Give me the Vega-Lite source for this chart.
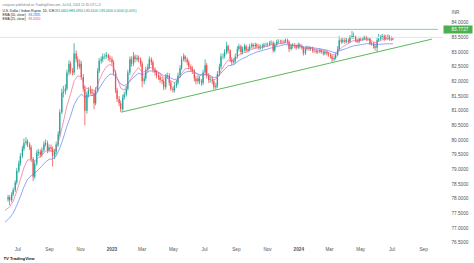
{
  "$schema": "https://vega.github.io/schema/vega-lite/v6.json",
  "width": 443,
  "height": 244,
  "autosize": {"type": "none"},
  "padding": {"left": 0, "top": 0, "right": 31, "bottom": 19},
  "background": "#ffffff",
  "config": {"view": {"stroke": null}, "axis": {"labelOverlap": false}},
  "resolve": {"axis": {"x": "independent", "y": "independent"}},
  "datasets": {
    "levels": [{"p": 83.5}],
    "drawings": [
      {"id": "res", "d": "2023-11-23", "p": 83.7727},
      {"id": "res", "d": "2024-09-30", "p": 83.7727},
      {"id": "sup", "d": "2023-01-20", "p": 80.95},
      {"id": "sup", "d": "2024-09-18", "p": 83.44}
    ],
    "ema": [
      {"d":"2022-06-07","e25":77.6,"e50":77.2},
      {"d":"2022-06-16","e25":77.72,"e50":77.34},
      {"d":"2022-06-23","e25":77.91,"e50":77.51},
      {"d":"2022-06-30","e25":78.25,"e50":77.77},
      {"d":"2022-07-07","e25":78.65,"e50":78.07},
      {"d":"2022-07-14","e25":79.06,"e50":78.4},
      {"d":"2022-07-21","e25":79.32,"e50":78.66},
      {"d":"2022-07-28","e25":79.33,"e50":78.78},
      {"d":"2022-08-04","e25":79.29,"e50":78.86},
      {"d":"2022-08-11","e25":79.39,"e50":78.99},
      {"d":"2022-08-18","e25":79.48,"e50":79.11},
      {"d":"2022-08-25","e25":79.62,"e50":79.25},
      {"d":"2022-09-01","e25":79.66,"e50":79.34},
      {"d":"2022-09-08","e25":79.59,"e50":79.36},
      {"d":"2022-09-15","e25":79.68,"e50":79.45},
      {"d":"2022-09-22","e25":80.1,"e50":79.72},
      {"d":"2022-09-29","e25":80.61,"e50":80.07},
      {"d":"2022-10-06","e25":81.17,"e50":80.47},
      {"d":"2022-10-13","e25":81.56,"e50":80.81},
      {"d":"2022-10-20","e25":82.02,"e50":81.2},
      {"d":"2022-10-27","e25":82.18,"e50":81.43},
      {"d":"2022-11-03","e25":82.17,"e50":81.56},
      {"d":"2022-11-10","e25":81.78,"e50":81.46},
      {"d":"2022-11-17","e25":81.75,"e50":81.5},
      {"d":"2022-11-24","e25":81.7,"e50":81.52},
      {"d":"2022-12-01","e25":81.7,"e50":81.55},
      {"d":"2022-12-08","e25":82.03,"e50":81.76},
      {"d":"2022-12-15","e25":82.3,"e50":81.96},
      {"d":"2022-12-22","e25":82.5,"e50":82.13},
      {"d":"2022-12-29","e25":82.58,"e50":82.24},
      {"d":"2023-01-05","e25":82.49,"e50":82.25},
      {"d":"2023-01-12","e25":82.13,"e50":82.1},
      {"d":"2023-01-19","e25":81.77,"e50":81.91},
      {"d":"2023-01-26","e25":81.7,"e50":81.85},
      {"d":"2023-02-02","e25":81.9,"e50":81.93},
      {"d":"2023-02-09","e25":82.13,"e50":82.05},
      {"d":"2023-02-16","e25":82.33,"e50":82.18},
      {"d":"2023-02-23","e25":82.47,"e50":82.28},
      {"d":"2023-03-02","e25":82.31,"e50":82.23},
      {"d":"2023-03-09","e25":82.34,"e50":82.26},
      {"d":"2023-03-16","e25":82.48,"e50":82.35},
      {"d":"2023-03-23","e25":82.45,"e50":82.36},
      {"d":"2023-03-30","e25":82.37,"e50":82.33},
      {"d":"2023-04-06","e25":82.26,"e50":82.28},
      {"d":"2023-04-13","e25":82.11,"e50":82.19},
      {"d":"2023-04-20","e25":82.14,"e50":82.19},
      {"d":"2023-04-27","e25":82.01,"e50":82.11},
      {"d":"2023-05-04","e25":81.96,"e50":82.06},
      {"d":"2023-05-11","e25":82.04,"e50":82.09},
      {"d":"2023-05-18","e25":82.27,"e50":82.21},
      {"d":"2023-05-25","e25":82.43,"e50":82.31},
      {"d":"2023-06-01","e25":82.45,"e50":82.34},
      {"d":"2023-06-08","e25":82.42,"e50":82.34},
      {"d":"2023-06-15","e25":82.28,"e50":82.28},
      {"d":"2023-06-22","e25":82.19,"e50":82.23},
      {"d":"2023-06-29","e25":82.23,"e50":82.24},
      {"d":"2023-07-06","e25":82.22,"e50":82.23},
      {"d":"2023-07-13","e25":82.17,"e50":82.2},
      {"d":"2023-07-20","e25":82.05,"e50":82.13},
      {"d":"2023-07-27","e25":82.12,"e50":82.15},
      {"d":"2023-08-03","e25":82.36,"e50":82.28},
      {"d":"2023-08-10","e25":82.57,"e50":82.41},
      {"d":"2023-08-17","e25":82.73,"e50":82.53},
      {"d":"2023-08-24","e25":82.7,"e50":82.55},
      {"d":"2023-08-31","e25":82.75,"e50":82.6},
      {"d":"2023-09-07","e25":82.9,"e50":82.71},
      {"d":"2023-09-14","e25":82.97,"e50":82.78},
      {"d":"2023-09-21","e25":83.0,"e50":82.83},
      {"d":"2023-09-28","e25":83.07,"e50":82.9},
      {"d":"2023-10-05","e25":83.11,"e50":82.95},
      {"d":"2023-10-12","e25":83.14,"e50":83.0},
      {"d":"2023-10-19","e25":83.15,"e50":83.03},
      {"d":"2023-10-26","e25":83.18,"e50":83.07},
      {"d":"2023-11-02","e25":83.2,"e50":83.1},
      {"d":"2023-11-09","e25":83.24,"e50":83.14},
      {"d":"2023-11-16","e25":83.24,"e50":83.16},
      {"d":"2023-11-23","e25":83.28,"e50":83.2},
      {"d":"2023-11-30","e25":83.3,"e50":83.23},
      {"d":"2023-12-07","e25":83.33,"e50":83.26},
      {"d":"2023-12-14","e25":83.25,"e50":83.23},
      {"d":"2023-12-21","e25":83.24,"e50":83.23},
      {"d":"2023-12-28","e25":83.21,"e50":83.22},
      {"d":"2024-01-04","e25":83.21,"e50":83.22},
      {"d":"2024-01-11","e25":83.12,"e50":83.17},
      {"d":"2024-01-18","e25":83.13,"e50":83.17},
      {"d":"2024-01-25","e25":83.13,"e50":83.16},
      {"d":"2024-02-01","e25":83.1,"e50":83.14},
      {"d":"2024-02-08","e25":83.07,"e50":83.12},
      {"d":"2024-02-15","e25":83.05,"e50":83.1},
      {"d":"2024-02-22","e25":83.03,"e50":83.08},
      {"d":"2024-02-29","e25":82.99,"e50":83.05},
      {"d":"2024-03-07","e25":82.91,"e50":83.0},
      {"d":"2024-03-14","e25":82.91,"e50":82.98},
      {"d":"2024-03-21","e25":83.07,"e50":83.04},
      {"d":"2024-03-28","e25":83.18,"e50":83.08},
      {"d":"2024-04-04","e25":83.25,"e50":83.12},
      {"d":"2024-04-11","e25":83.33,"e50":83.17},
      {"d":"2024-04-18","e25":83.39,"e50":83.21},
      {"d":"2024-04-25","e25":83.38,"e50":83.23},
      {"d":"2024-05-02","e25":83.4,"e50":83.25},
      {"d":"2024-05-09","e25":83.43,"e50":83.27},
      {"d":"2024-05-16","e25":83.44,"e50":83.29},
      {"d":"2024-05-23","e25":83.39,"e50":83.28},
      {"d":"2024-05-30","e25":83.31,"e50":83.26},
      {"d":"2024-06-06","e25":83.36,"e50":83.26},
      {"d":"2024-06-13","e25":83.42,"e50":83.27},
      {"d":"2024-06-20","e25":83.45,"e50":83.28},
      {"d":"2024-06-27","e25":83.45,"e50":83.28},
      {"d":"2024-07-04","e25":83.43,"e50":83.28}
    ],
    "candles": [
      {"d":"2022-06-13","o":77.98,"h":78.13,"l":77.9,"c":78.05},
      {"d":"2022-06-16","o":78.05,"h":78.12,"l":77.78,"c":77.95},
      {"d":"2022-06-20","o":77.95,"h":78.22,"l":77.88,"c":78.15},
      {"d":"2022-06-23","o":78.15,"h":78.38,"l":78.08,"c":78.3},
      {"d":"2022-06-27","o":78.3,"h":78.63,"l":78.22,"c":78.55},
      {"d":"2022-06-30","o":78.55,"h":79.05,"l":78.48,"c":78.95},
      {"d":"2022-07-04","o":78.95,"h":79.3,"l":78.88,"c":79.2},
      {"d":"2022-07-07","o":79.2,"h":79.55,"l":79.12,"c":79.45},
      {"d":"2022-07-11","o":79.45,"h":79.8,"l":79.38,"c":79.7},
      {"d":"2022-07-14","o":79.7,"h":80.05,"l":79.62,"c":79.9},
      {"d":"2022-07-18","o":79.9,"h":80.1,"l":79.82,"c":79.95},
      {"d":"2022-07-21","o":79.95,"h":80.02,"l":79.76,"c":79.85},
      {"d":"2022-07-25","o":79.85,"h":79.92,"l":79.66,"c":79.75},
      {"d":"2022-07-28","o":79.75,"h":79.82,"l":79.25,"c":79.35},
      {"d":"2022-08-01","o":79.35,"h":79.42,"l":78.6,"c":78.75},
      {"d":"2022-08-04","o":78.75,"h":79.3,"l":78.68,"c":79.2},
      {"d":"2022-08-08","o":79.2,"h":79.65,"l":79.12,"c":79.55},
      {"d":"2022-08-11","o":79.55,"h":79.7,"l":79.45,"c":79.6},
      {"d":"2022-08-15","o":79.6,"h":79.68,"l":79.4,"c":79.5},
      {"d":"2022-08-18","o":79.5,"h":79.75,"l":79.42,"c":79.65},
      {"d":"2022-08-22","o":79.65,"h":79.95,"l":79.58,"c":79.85},
      {"d":"2022-08-25","o":79.85,"h":80.02,"l":79.78,"c":79.9},
      {"d":"2022-08-29","o":79.9,"h":79.98,"l":79.55,"c":79.65},
      {"d":"2022-09-01","o":79.65,"h":79.85,"l":79.58,"c":79.75},
      {"d":"2022-09-05","o":79.75,"h":79.85,"l":79.6,"c":79.7},
      {"d":"2022-09-08","o":79.7,"h":79.78,"l":79.1,"c":79.45},
      {"d":"2022-09-12","o":79.45,"h":79.7,"l":79.35,"c":79.6},
      {"d":"2022-09-15","o":79.6,"h":79.95,"l":79.52,"c":79.85},
      {"d":"2022-09-19","o":79.85,"h":80.3,"l":79.78,"c":80.2},
      {"d":"2022-09-22","o":80.2,"h":81.05,"l":80.12,"c":80.95},
      {"d":"2022-09-26","o":80.95,"h":81.75,"l":80.88,"c":81.6},
      {"d":"2022-09-29","o":81.6,"h":81.85,"l":81.45,"c":81.65},
      {"d":"2022-10-03","o":81.65,"h":81.9,"l":81.55,"c":81.75},
      {"d":"2022-10-06","o":81.75,"h":82.4,"l":81.68,"c":82.3},
      {"d":"2022-10-10","o":82.3,"h":82.72,"l":82.2,"c":82.6},
      {"d":"2022-10-13","o":82.6,"h":82.68,"l":82.25,"c":82.35},
      {"d":"2022-10-17","o":82.35,"h":82.45,"l":82.2,"c":82.3},
      {"d":"2022-10-20","o":82.3,"h":83.3,"l":82.22,"c":82.95},
      {"d":"2022-10-24","o":82.95,"h":83.05,"l":82.65,"c":82.75},
      {"d":"2022-10-27","o":82.75,"h":82.85,"l":82.4,"c":82.5},
      {"d":"2022-10-31","o":82.5,"h":82.75,"l":82.42,"c":82.6},
      {"d":"2022-11-03","o":82.6,"h":82.7,"l":82.05,"c":82.15},
      {"d":"2022-11-07","o":82.15,"h":82.25,"l":81.65,"c":81.75},
      {"d":"2022-11-10","o":81.75,"h":81.85,"l":80.5,"c":81.0},
      {"d":"2022-11-14","o":81.0,"h":81.65,"l":80.9,"c":81.55},
      {"d":"2022-11-17","o":81.55,"h":81.8,"l":81.45,"c":81.7},
      {"d":"2022-11-21","o":81.7,"h":81.85,"l":81.55,"c":81.65},
      {"d":"2022-11-24","o":81.65,"h":81.75,"l":81.5,"c":81.6},
      {"d":"2022-11-28","o":81.6,"h":81.68,"l":81.05,"c":81.25},
      {"d":"2022-12-01","o":81.25,"h":81.8,"l":81.18,"c":81.7},
      {"d":"2022-12-05","o":81.7,"h":82.45,"l":81.62,"c":82.35},
      {"d":"2022-12-08","o":82.35,"h":82.8,"l":82.28,"c":82.7},
      {"d":"2022-12-12","o":82.7,"h":82.85,"l":82.6,"c":82.75},
      {"d":"2022-12-15","o":82.75,"h":82.95,"l":82.65,"c":82.85},
      {"d":"2022-12-19","o":82.85,"h":82.95,"l":82.75,"c":82.86},
      {"d":"2022-12-22","o":82.86,"h":83.0,"l":82.78,"c":82.9},
      {"d":"2022-12-26","o":82.9,"h":82.95,"l":82.7,"c":82.8},
      {"d":"2022-12-29","o":82.8,"h":82.88,"l":82.65,"c":82.75},
      {"d":"2023-01-02","o":82.75,"h":82.85,"l":82.55,"c":82.65},
      {"d":"2023-01-05","o":82.65,"h":82.72,"l":82.2,"c":82.3},
      {"d":"2023-01-09","o":82.3,"h":82.38,"l":81.6,"c":81.7},
      {"d":"2023-01-12","o":81.7,"h":81.78,"l":81.3,"c":81.4},
      {"d":"2023-01-16","o":81.4,"h":81.5,"l":81.15,"c":81.25},
      {"d":"2023-01-19","o":81.25,"h":81.35,"l":80.95,"c":81.05},
      {"d":"2023-01-23","o":81.05,"h":81.55,"l":80.98,"c":81.45},
      {"d":"2023-01-26","o":81.45,"h":81.65,"l":81.38,"c":81.55},
      {"d":"2023-01-30","o":81.55,"h":81.85,"l":81.48,"c":81.75},
      {"d":"2023-02-02","o":81.75,"h":82.4,"l":81.68,"c":82.3},
      {"d":"2023-02-06","o":82.3,"h":82.85,"l":82.22,"c":82.75},
      {"d":"2023-02-09","o":82.75,"h":82.85,"l":82.5,"c":82.6},
      {"d":"2023-02-13","o":82.6,"h":83.0,"l":82.52,"c":82.85},
      {"d":"2023-02-16","o":82.85,"h":82.92,"l":82.65,"c":82.75},
      {"d":"2023-02-20","o":82.75,"h":82.9,"l":82.68,"c":82.8},
      {"d":"2023-02-23","o":82.8,"h":82.88,"l":82.65,"c":82.75},
      {"d":"2023-02-27","o":82.75,"h":82.82,"l":82.5,"c":82.6},
      {"d":"2023-03-02","o":82.6,"h":82.68,"l":81.8,"c":82.0},
      {"d":"2023-03-06","o":82.0,"h":82.2,"l":81.9,"c":82.1},
      {"d":"2023-03-09","o":82.1,"h":82.5,"l":82.02,"c":82.4},
      {"d":"2023-03-13","o":82.4,"h":82.6,"l":82.32,"c":82.5},
      {"d":"2023-03-16","o":82.5,"h":82.85,"l":82.42,"c":82.75},
      {"d":"2023-03-20","o":82.75,"h":82.82,"l":82.55,"c":82.65},
      {"d":"2023-03-23","o":82.65,"h":82.72,"l":82.3,"c":82.4},
      {"d":"2023-03-27","o":82.4,"h":82.48,"l":82.2,"c":82.3},
      {"d":"2023-03-30","o":82.3,"h":82.38,"l":82.1,"c":82.2},
      {"d":"2023-04-03","o":82.2,"h":82.28,"l":82.05,"c":82.15},
      {"d":"2023-04-06","o":82.15,"h":82.22,"l":81.95,"c":82.05},
      {"d":"2023-04-10","o":82.05,"h":82.15,"l":81.9,"c":82.0},
      {"d":"2023-04-13","o":82.0,"h":82.08,"l":81.7,"c":81.8},
      {"d":"2023-04-17","o":81.8,"h":82.25,"l":81.72,"c":82.15},
      {"d":"2023-04-20","o":82.15,"h":82.3,"l":82.08,"c":82.2},
      {"d":"2023-04-24","o":82.2,"h":82.28,"l":81.85,"c":81.95},
      {"d":"2023-04-27","o":81.95,"h":82.02,"l":81.68,"c":81.75},
      {"d":"2023-05-01","o":81.75,"h":81.82,"l":81.62,"c":81.7},
      {"d":"2023-05-04","o":81.7,"h":81.95,"l":81.62,"c":81.85},
      {"d":"2023-05-08","o":81.85,"h":82.05,"l":81.78,"c":81.95},
      {"d":"2023-05-11","o":81.95,"h":82.3,"l":81.88,"c":82.2},
      {"d":"2023-05-15","o":82.2,"h":82.55,"l":82.12,"c":82.45},
      {"d":"2023-05-18","o":82.45,"h":82.85,"l":82.38,"c":82.75},
      {"d":"2023-05-22","o":82.75,"h":82.95,"l":82.68,"c":82.85},
      {"d":"2023-05-25","o":82.85,"h":82.9,"l":82.65,"c":82.75},
      {"d":"2023-05-29","o":82.75,"h":82.82,"l":82.55,"c":82.65},
      {"d":"2023-06-01","o":82.65,"h":82.72,"l":82.4,"c":82.5},
      {"d":"2023-06-05","o":82.5,"h":82.58,"l":82.35,"c":82.45},
      {"d":"2023-06-08","o":82.45,"h":82.52,"l":82.25,"c":82.35},
      {"d":"2023-06-12","o":82.35,"h":82.42,"l":82.0,"c":82.1},
      {"d":"2023-06-15","o":82.1,"h":82.18,"l":81.9,"c":82.0},
      {"d":"2023-06-19","o":82.0,"h":82.2,"l":81.92,"c":82.1},
      {"d":"2023-06-22","o":82.1,"h":82.18,"l":81.9,"c":82.0},
      {"d":"2023-06-26","o":82.0,"h":82.08,"l":81.85,"c":81.95},
      {"d":"2023-06-29","o":81.95,"h":82.4,"l":81.88,"c":82.3},
      {"d":"2023-07-03","o":82.3,"h":82.75,"l":82.22,"c":82.55},
      {"d":"2023-07-06","o":82.55,"h":82.62,"l":82.1,"c":82.2},
      {"d":"2023-07-10","o":82.2,"h":82.28,"l":81.95,"c":82.05},
      {"d":"2023-07-13","o":82.05,"h":82.15,"l":81.95,"c":82.06},
      {"d":"2023-07-17","o":82.06,"h":82.15,"l":81.9,"c":82.0},
      {"d":"2023-07-20","o":82.0,"h":82.08,"l":81.72,"c":81.8},
      {"d":"2023-07-24","o":81.8,"h":81.95,"l":81.72,"c":81.85},
      {"d":"2023-07-27","o":81.85,"h":82.35,"l":81.78,"c":82.25},
      {"d":"2023-07-31","o":82.25,"h":82.6,"l":82.18,"c":82.5},
      {"d":"2023-08-03","o":82.5,"h":82.95,"l":82.42,"c":82.85},
      {"d":"2023-08-07","o":82.85,"h":82.95,"l":82.75,"c":82.86},
      {"d":"2023-08-10","o":82.86,"h":83.1,"l":82.78,"c":83.0},
      {"d":"2023-08-14","o":83.0,"h":83.35,"l":82.92,"c":83.2},
      {"d":"2023-08-17","o":83.2,"h":83.25,"l":82.95,"c":83.05},
      {"d":"2023-08-21","o":83.05,"h":83.1,"l":82.65,"c":82.75},
      {"d":"2023-08-24","o":82.75,"h":82.82,"l":82.55,"c":82.65},
      {"d":"2023-08-28","o":82.65,"h":82.8,"l":82.58,"c":82.7},
      {"d":"2023-08-31","o":82.7,"h":82.95,"l":82.62,"c":82.85},
      {"d":"2023-09-04","o":82.85,"h":83.2,"l":82.78,"c":83.1},
      {"d":"2023-09-07","o":83.1,"h":83.28,"l":83.02,"c":83.2},
      {"d":"2023-09-11","o":83.2,"h":83.25,"l":82.92,"c":83.0},
      {"d":"2023-09-14","o":83.0,"h":83.18,"l":82.92,"c":83.1},
      {"d":"2023-09-18","o":83.1,"h":83.28,"l":83.02,"c":83.2},
      {"d":"2023-09-21","o":83.2,"h":83.25,"l":82.98,"c":83.05},
      {"d":"2023-09-25","o":83.05,"h":83.18,"l":82.98,"c":83.1},
      {"d":"2023-09-28","o":83.1,"h":83.28,"l":83.02,"c":83.2},
      {"d":"2023-10-02","o":83.2,"h":83.32,"l":83.12,"c":83.25},
      {"d":"2023-10-05","o":83.25,"h":83.3,"l":83.12,"c":83.2},
      {"d":"2023-10-09","o":83.2,"h":83.32,"l":83.12,"c":83.25},
      {"d":"2023-10-12","o":83.25,"h":83.3,"l":83.12,"c":83.2},
      {"d":"2023-10-16","o":83.2,"h":83.28,"l":83.08,"c":83.15},
      {"d":"2023-10-19","o":83.15,"h":83.25,"l":83.08,"c":83.16},
      {"d":"2023-10-23","o":83.16,"h":83.28,"l":83.1,"c":83.2},
      {"d":"2023-10-26","o":83.2,"h":83.32,"l":83.14,"c":83.25},
      {"d":"2023-10-30","o":83.25,"h":83.32,"l":83.18,"c":83.26},
      {"d":"2023-11-02","o":83.26,"h":83.32,"l":83.18,"c":83.25},
      {"d":"2023-11-06","o":83.25,"h":83.38,"l":83.2,"c":83.3},
      {"d":"2023-11-09","o":83.3,"h":83.4,"l":83.24,"c":83.32},
      {"d":"2023-11-13","o":83.32,"h":83.38,"l":82.98,"c":83.05},
      {"d":"2023-11-16","o":83.05,"h":83.32,"l":83.0,"c":83.25},
      {"d":"2023-11-20","o":83.25,"h":83.42,"l":83.2,"c":83.35},
      {"d":"2023-11-23","o":83.35,"h":83.44,"l":83.28,"c":83.36},
      {"d":"2023-11-27","o":83.36,"h":83.42,"l":83.28,"c":83.35},
      {"d":"2023-11-30","o":83.35,"h":83.42,"l":83.26,"c":83.34},
      {"d":"2023-12-04","o":83.34,"h":83.42,"l":83.28,"c":83.35},
      {"d":"2023-12-07","o":83.35,"h":83.46,"l":83.3,"c":83.4},
      {"d":"2023-12-11","o":83.4,"h":83.46,"l":83.28,"c":83.35},
      {"d":"2023-12-14","o":83.35,"h":83.4,"l":83.0,"c":83.1},
      {"d":"2023-12-18","o":83.1,"h":83.28,"l":83.05,"c":83.2},
      {"d":"2023-12-21","o":83.2,"h":83.3,"l":83.12,"c":83.22},
      {"d":"2023-12-25","o":83.22,"h":83.3,"l":83.12,"c":83.2},
      {"d":"2023-12-28","o":83.2,"h":83.26,"l":83.08,"c":83.15},
      {"d":"2024-01-01","o":83.15,"h":83.32,"l":83.1,"c":83.25},
      {"d":"2024-01-04","o":83.25,"h":83.3,"l":83.12,"c":83.2},
      {"d":"2024-01-08","o":83.2,"h":83.26,"l":83.08,"c":83.15},
      {"d":"2024-01-11","o":83.15,"h":83.2,"l":82.88,"c":82.95},
      {"d":"2024-01-15","o":82.95,"h":83.18,"l":82.9,"c":83.1},
      {"d":"2024-01-18","o":83.1,"h":83.22,"l":83.05,"c":83.15},
      {"d":"2024-01-22","o":83.15,"h":83.2,"l":83.04,"c":83.1},
      {"d":"2024-01-25","o":83.1,"h":83.18,"l":83.04,"c":83.12},
      {"d":"2024-01-29","o":83.12,"h":83.18,"l":82.98,"c":83.05},
      {"d":"2024-02-01","o":83.05,"h":83.12,"l":82.97,"c":83.04},
      {"d":"2024-02-05","o":83.04,"h":83.1,"l":82.94,"c":83.0},
      {"d":"2024-02-08","o":83.0,"h":83.08,"l":82.94,"c":83.02},
      {"d":"2024-02-12","o":83.02,"h":83.12,"l":82.96,"c":83.05},
      {"d":"2024-02-15","o":83.05,"h":83.1,"l":82.94,"c":83.0},
      {"d":"2024-02-19","o":83.0,"h":83.06,"l":82.88,"c":82.95},
      {"d":"2024-02-22","o":82.95,"h":83.06,"l":82.9,"c":83.0},
      {"d":"2024-02-26","o":83.0,"h":83.06,"l":82.88,"c":82.95},
      {"d":"2024-02-29","o":82.95,"h":83.0,"l":82.84,"c":82.9},
      {"d":"2024-03-04","o":82.9,"h":82.96,"l":82.78,"c":82.85},
      {"d":"2024-03-07","o":82.85,"h":82.9,"l":82.65,"c":82.75},
      {"d":"2024-03-11","o":82.75,"h":82.88,"l":82.68,"c":82.8},
      {"d":"2024-03-14","o":82.8,"h":82.98,"l":82.74,"c":82.9},
      {"d":"2024-03-18","o":82.9,"h":83.2,"l":82.85,"c":83.1},
      {"d":"2024-03-21","o":83.1,"h":83.55,"l":83.05,"c":83.4},
      {"d":"2024-03-25","o":83.4,"h":83.48,"l":83.28,"c":83.35},
      {"d":"2024-03-28","o":83.35,"h":83.48,"l":83.3,"c":83.4},
      {"d":"2024-04-01","o":83.4,"h":83.48,"l":83.28,"c":83.35},
      {"d":"2024-04-04","o":83.35,"h":83.48,"l":83.3,"c":83.4},
      {"d":"2024-04-08","o":83.4,"h":83.46,"l":83.28,"c":83.35},
      {"d":"2024-04-11","o":83.35,"h":83.58,"l":83.3,"c":83.5},
      {"d":"2024-04-15","o":83.5,"h":83.72,"l":83.45,"c":83.55},
      {"d":"2024-04-18","o":83.55,"h":83.66,"l":83.45,"c":83.52},
      {"d":"2024-04-22","o":83.52,"h":83.56,"l":83.34,"c":83.4},
      {"d":"2024-04-25","o":83.4,"h":83.46,"l":83.3,"c":83.35},
      {"d":"2024-04-29","o":83.35,"h":83.52,"l":83.3,"c":83.45},
      {"d":"2024-05-02","o":83.45,"h":83.52,"l":83.38,"c":83.44},
      {"d":"2024-05-06","o":83.44,"h":83.52,"l":83.38,"c":83.45},
      {"d":"2024-05-09","o":83.45,"h":83.56,"l":83.4,"c":83.5},
      {"d":"2024-05-13","o":83.5,"h":83.55,"l":83.38,"c":83.45},
      {"d":"2024-05-16","o":83.45,"h":83.52,"l":83.38,"c":83.46},
      {"d":"2024-05-20","o":83.46,"h":83.5,"l":83.24,"c":83.3},
      {"d":"2024-05-23","o":83.3,"h":83.36,"l":83.22,"c":83.28},
      {"d":"2024-05-27","o":83.28,"h":83.34,"l":83.12,"c":83.2},
      {"d":"2024-05-30","o":83.2,"h":83.28,"l":83.05,"c":83.15},
      {"d":"2024-06-03","o":83.15,"h":83.5,"l":83.0,"c":83.4},
      {"d":"2024-06-06","o":83.4,"h":83.62,"l":83.35,"c":83.45},
      {"d":"2024-06-10","o":83.45,"h":83.58,"l":83.4,"c":83.5},
      {"d":"2024-06-13","o":83.5,"h":83.62,"l":83.45,"c":83.55},
      {"d":"2024-06-17","o":83.55,"h":83.6,"l":83.38,"c":83.45},
      {"d":"2024-06-20","o":83.45,"h":83.58,"l":83.4,"c":83.5},
      {"d":"2024-06-24","o":83.5,"h":83.6,"l":83.42,"c":83.52},
      {"d":"2024-06-27","o":83.52,"h":83.58,"l":83.38,"c":83.45},
      {"d":"2024-07-01","o":83.45,"h":83.54,"l":83.38,"c":83.46},
      {"d":"2024-07-04","o":83.46,"h":83.5,"l":83.4,"c":83.44}
    ]
  },
  "layer": [
    {
      "data": {"name": "candles"},
      "mark": {"type": "rule", "strokeWidth": 0.8, "clip": true},
      "encoding": {
        "x": {
          "field": "d", "type": "temporal",
          "scale": {"domain": [{"year": 2022, "month": 6, "date": 7}, {"year": 2024, "month": 9, "date": 30}]},
          "axis": {
            "orient": "bottom",
            "values": [
              {"year": 2022, "month": 7, "date": 1}, {"year": 2022, "month": 9, "date": 1}, {"year": 2022, "month": 11, "date": 1},
              {"year": 2023, "month": 1, "date": 1}, {"year": 2023, "month": 3, "date": 1}, {"year": 2023, "month": 5, "date": 1},
              {"year": 2023, "month": 7, "date": 1}, {"year": 2023, "month": 9, "date": 1}, {"year": 2023, "month": 11, "date": 1},
              {"year": 2024, "month": 1, "date": 1}, {"year": 2024, "month": 3, "date": 1}, {"year": 2024, "month": 5, "date": 1},
              {"year": 2024, "month": 7, "date": 1}, {"year": 2024, "month": 9, "date": 1}
            ],
            "labelExpr": "month(datum.value) === 0 ? timeFormat(datum.value, '%Y') : timeFormat(datum.value, '%b')",
            "labelFont": "Liberation Sans",
            "labelFontSize": 4.7,
            "labelColor": "#555555",
            "labelFontWeight": {"condition": {"test": "month(datum.value) === 0", "value": "bold"}, "value": "normal"},
            "labelPadding": 2,
            "labelOverlap": false,
            "labelFlush": false,
            "ticks": false,
            "domain": false,
            "grid": false,
            "title": "TV TradingView",
            "titleX": 3,
            "titleY": 14,
            "titleAlign": "left",
            "titleBaseline": "middle",
            "titleFont": "Liberation Sans",
            "titleFontSize": 4.2,
            "titleFontWeight": "bold",
            "titleColor": "#131722"
          }
        },
        "y": {
          "field": "l", "type": "quantitative",
          "scale": {"domain": [76.455, 84.774], "nice": false, "zero": false},
          "axis": {
            "orient": "right",
            "values": [76.5, 77, 77.5, 78, 78.5, 79, 79.5, 80, 80.5, 81, 81.5, 82, 82.5, 83, 83.5, 84, 83.7727],
            "format": ".4f",
            "labelFont": "Liberation Sans",
            "labelFontSize": 4.7,
            "labelColor": {"condition": {"test": "datum.value === 83.7727", "value": "#ffffff"}, "value": "#555555"},
            "labelAlign": "left",
            "labelBaseline": "middle",
            "labelPadding": -21,
            "labelOverlap": false,
            "labelFlush": false,
            "ticks": true,
            "tickSize": 29,
            "tickWidth": 8,
            "tickColor": {"condition": {"test": "datum.value === 83.7727", "value": "#4caf50"}, "value": "transparent"},
            "domain": false,
            "grid": false,
            "title": "INR",
            "titleAngle": 0,
            "titleX": 8,
            "titleY": 12,
            "titleAlign": "left",
            "titleBaseline": "middle",
            "titleFont": "Liberation Sans",
            "titleFontSize": 4.5,
            "titleFontWeight": "normal",
            "titleColor": "#555555"
          }
        },
        "y2": {"field": "h"},
        "color": {"condition": {"test": "datum.c >= datum.o", "value": "#26a69a"}, "value": "#ef5350"}
      }
    },
    {
      "data": {"name": "levels"},
      "mark": {"type": "rule", "color": "#e3e5ea", "strokeWidth": 1},
      "encoding": {
        "y": {
          "field": "p", "type": "quantitative",
          "axis": {"orient": "left", "labels": false, "ticks": false, "domain": false, "grid": false,
            "title": "83.4320", "titleAngle": 0, "titleX": 28, "titleY": 18.6, "titleAlign": "left", "titleBaseline": "middle",
            "titleFont": "Liberation Sans", "titleFontSize": 3.3, "titleFontWeight": "normal", "titleColor": "#e8457a"}
        }
      }
    },
    {
      "data": {"name": "candles"},
      "mark": {"type": "bar", "size": 1.3, "clip": true},
      "encoding": {
        "x": {
          "field": "d", "type": "temporal",
          "axis": {"orient": "top", "labels": false, "ticks": false, "domain": false, "grid": false,
            "title": "crispusn published on TradingView.com, Jul 04, 2024 11:35 UTC+3", "titleX": 2, "titleY": 4.3, "titleAlign": "left", "titleBaseline": "middle",
            "titleFont": "Liberation Sans", "titleFontSize": 3.3, "titleFontWeight": "normal", "titleColor": "#787b86"}
        },
        "y": {"field": "o", "type": "quantitative", "axis": null},
        "y2": {"field": "c"},
        "color": {"condition": {"test": "datum.c >= datum.o", "value": "#26a69a"}, "value": "#ef5350"}
      }
    },
    {
      "data": {"name": "ema"},
      "mark": {"type": "line", "color": "#5b7cf0", "strokeWidth": 0.9, "opacity": 0.75, "clip": true},
      "encoding": {
        "x": {
          "field": "d", "type": "temporal",
          "axis": {"orient": "top", "labels": false, "ticks": false, "domain": false, "grid": false,
            "title": ["U.S. Dollar / Indian Rupee, 1D, ICE", "EMA (50, close)", "EMA (25, close)"], "titleX": 2, "titleY": 8.8, "titleAlign": "left", "titleBaseline": "top", "titleLineHeight": 4.05,
            "titleFont": "Liberation Sans", "titleFontSize": 3.3, "titleFontWeight": "normal", "titleColor": "#131722"}
        },
        "y": {"field": "e50", "type": "quantitative", "axis": null}
      }
    },
    {
      "data": {"name": "ema"},
      "mark": {"type": "line", "color": "#f06292", "strokeWidth": 0.9, "opacity": 0.75, "clip": true},
      "encoding": {
        "x": {
          "field": "d", "type": "temporal",
          "axis": {"orient": "top", "labels": false, "ticks": false, "domain": false, "grid": false,
            "title": "O83.4400 H83.4950 L83.4100 C83.4400 0.0000 (0.00%)", "titleX": 53, "titleY": 10.5, "titleAlign": "left", "titleBaseline": "middle",
            "titleFont": "Liberation Sans", "titleFontSize": 3.3, "titleFontWeight": "normal", "titleColor": "#089981"}
        },
        "y": {"field": "e25", "type": "quantitative", "axis": null}
      }
    },
    {
      "data": {"name": "drawings"},
      "mark": {"type": "line", "strokeWidth": 1, "clip": true},
      "encoding": {
        "x": {
          "field": "d", "type": "temporal",
          "axis": {"orient": "top", "labels": false, "ticks": false, "domain": false, "grid": false,
            "title": "83.2835", "titleX": 28, "titleY": 14.6, "titleAlign": "left", "titleBaseline": "middle",
            "titleFont": "Liberation Sans", "titleFontSize": 3.3, "titleFontWeight": "normal", "titleColor": "#2962ff"}
        },
        "y": {"field": "p", "type": "quantitative", "axis": null},
        "detail": {"field": "id"},
        "color": {"field": "id", "type": "nominal", "scale": {"domain": ["res", "sup"], "range": ["#8fd18f", "#5cb85c"]}, "legend": null}
      }
    }
  ]
}
